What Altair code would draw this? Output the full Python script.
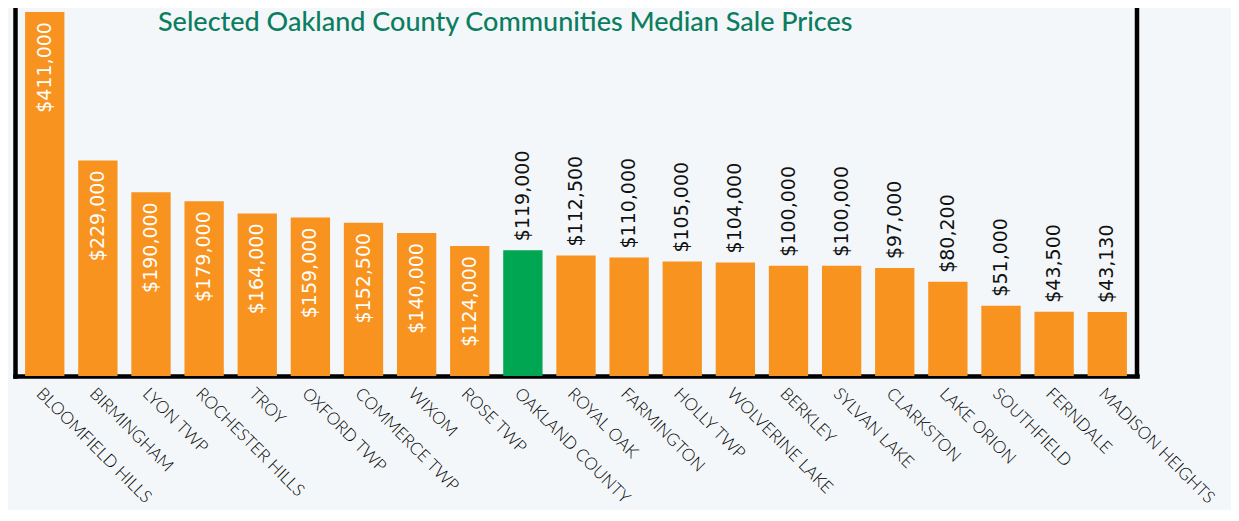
import altair as alt
import pandas as pd

categories = ["BLOOMFIELD HILLS", "BIRMINGHAM", "LYON TWP", "ROCHESTER HILLS", "TROY",
              "OXFORD TWP", "COMMERCE TWP", "WIXOM", "ROSE TWP", "OAKLAND COUNTY",
              "ROYAL OAK", "FARMINGTON", "HOLLY TWP", "WOLVERINE LAKE", "BERKLEY",
              "SYLVAN LAKE", "CLARKSTON", "LAKE ORION", "SOUTHFIELD", "FERNDALE",
              "MADISON HEIGHTS"]
prices = [411000, 229000, 190000, 179000, 164000, 159000, 152500, 140000, 124000, 119000,
          112500, 110000, 105000, 104000, 100000, 100000, 97000, 80200, 51000, 43500, 43130]
highlight = "OAKLAND COUNTY"
title_text = ["Selected Oakland County Communities Median Sale Prices"]

ORANGE = "#f7931e"
GREEN = "#00a651"
TITLE_GREEN = "#0b7d60"
Y_MIN = -35300
Y_MAX = 416000
W, H = 1122, 368

df = pd.DataFrame({"community": categories, "price": prices})

x = alt.X("community:N", sort=categories,
          scale=alt.Scale(paddingInner=0.26, paddingOuter=0.19),
          axis=alt.Axis(title=None, labelAngle=45, labelAlign="left", labelBaseline="top",
                        ticks=False, tickSize=0, domainColor="black", domainWidth=4.5,
                        domainCap="square", labelFont="Lato", labelFontWeight=300,
                        labelFontSize=17, labelColor="#000000", labelPadding=9,
                        labelLimit=0, labelOverlap=False))
y = alt.Y("price:Q", scale=alt.Scale(domain=[Y_MIN, Y_MAX], nice=False, zero=False),
          axis=alt.Axis(title=None, labels=False, ticks=False, grid=False,
                        domainColor="black", domainWidth=4.5, domainCap="square"))

base = alt.Chart(df)

bars = base.mark_bar().encode(
    x=x, y=y, y2=alt.datum(Y_MIN),
    color=alt.condition(alt.datum.community == highlight, alt.value(GREEN), alt.value(ORANGE)),
)

inside = base.transform_filter("datum.price >= 120000").mark_text(
    angle=270, align="right", baseline="middle", yOffset=10,
    font="DejaVu Sans", fontSize=19, color="white",
).encode(x=x, y=y, text=alt.Text("price:Q", format="$,"))

outside = base.transform_filter("datum.price < 120000").mark_text(
    angle=270, align="left", baseline="middle", yOffset=-9,
    font="DejaVu Sans", fontSize=19, color="#111111",
).encode(x=x, y=y, text=alt.Text("price:Q", format="$,"))

right_line = alt.Chart(pd.DataFrame({"k": [0]})).mark_rule(
    color="black", strokeWidth=4.5, strokeCap="square"
).encode(x=alt.value(W), y=alt.value(0), y2=alt.value(H))

title = alt.Chart(pd.DataFrame({"t": title_text})).mark_text(
    align="left", baseline="middle", font="Lato", fontSize=27, fontWeight=500,
    color=TITLE_GREEN,
).encode(x=alt.value(143), y=alt.value(15), text="t:N")

chart = alt.layer(bars, inside, outside, right_line, title).properties(
    width=W, height=H,
    autosize=alt.AutoSizeParams(type="none"),
    padding={"left": 7, "top": 0, "right": 94, "bottom": 134},
    background="#f3f7f9",
).configure_view(stroke=None)

chart.save("out.html", embed_options={"renderer": "svg", "actions": False})
